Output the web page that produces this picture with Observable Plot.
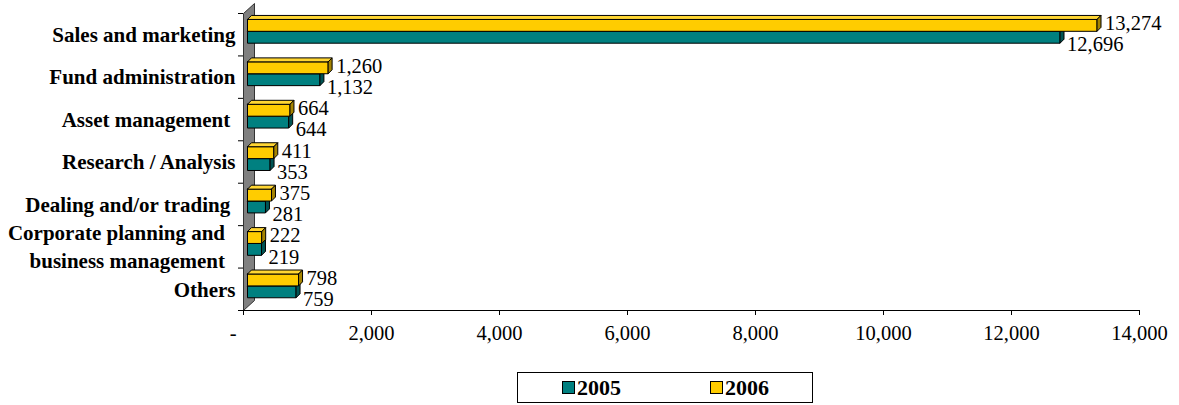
<!DOCTYPE html>
<html><head><meta charset="utf-8">
<script src="https://cdn.jsdelivr.net/npm/d3@7"></script>
<script src="https://cdn.jsdelivr.net/npm/@observablehq/plot@0.6"></script>
<style>
body{margin:0;background:#fff;font-family:"Liberation Serif","Times New Roman",serif;}
#legend{position:relative;margin-left:517px;margin-top:7px;width:294px;height:29px;border:1px solid #000;}
.item{position:absolute;top:0;height:29px;display:flex;align-items:center;font-weight:bold;font-size:22px;}
.sw{width:11px;height:11px;border:1px solid #000;margin-right:2px;}
</style></head><body><div id="chart"></div>
<script>
const categories = ["Sales and marketing","Fund administration","Asset management\u00a0","Research / Analysis","Dealing and/or trading\u00a0","Corporate planning and\u00a0\u00a0\nbusiness management\u00a0\u00a0","Others"];
const values2005 = [12696,1132,644,353,281,219,759];
const values2006 = [13274,1260,664,411,375,222,798];
const seriesNames = ["2005","2006"];
const xTicks = [0,2000,4000,6000,8000,10000,12000,14000];

const colors = {"2005":{front:"#008080",top:"#1a9999",side:"#005454"},
                "2006":{front:"#FFCC00",top:"#FFD633",side:"#A68400"}};
const DX = 62, DY = 0.094;       // bar depth (data units)
const WX = 172, WY = 0.236;      // wall depth (data units)
const n = categories.length;

function poly(id, pts){ return [...pts, pts[0]].map(([x,y])=>({id,x,y})); }
function faces(vals, f1, f2, key){
  const front=[], top=[], side=[];
  vals.forEach((v,i)=>{
    const a=i+f1, b=i+f2;
    front.push(...poly(key+i,[[0,a],[v,a],[v,b],[0,b]]));
    top.push(...poly(key+i,[[0,a],[DX,a-DY],[v+DX,a-DY],[v,a]]));
    side.push(...poly(key+i,[[v,a],[v+DX,a-DY],[v+DX,b-DY],[v,b]]));
  });
  return {front,top,side};
}
const f05 = faces(values2005, 0.42, 0.70, "a");
const f06 = faces(values2006, 0.14, 0.42, "b");
const wall = poly("w", [[0,n],[0,0],[WX,-WY],[WX,n-WY]]);

function barMarks(f, c){
  const o = {x:"x", y:"y", z:"id", stroke:"#000", strokeWidth:1, curve:"linear", dx:4, strokeLinejoin:"miter"};
  return [
    Plot.line(f.front, {...o, fill:c.front}),
    Plot.line(f.top, {...o, fill:c.top}),
    Plot.line(f.side, {...o, fill:c.side})
  ];
}
const fmt = d3.format(",");
const plot = Plot.plot({
  width: 1179, height: 365,
  marginLeft: 243, marginRight: 40, marginTop: 13, marginBottom: 55,
  style: {fontFamily: "'Liberation Serif','Times New Roman',serif", fontSize: "20.5px", background: "#fff", color: "#000"},
  x: {domain: [0, 14000]},
  y: {domain: [n, 0]},
  marks: [
    Plot.line(wall, {x:"x", y:"y", z:"id", fill:"#808080", stroke:"#333", strokeWidth:1, curve:"linear"}),
    Plot.ruleY([n], {stroke:"#000", strokeWidth:1}),
    Plot.axisX({ticks: xTicks, tickSize: 5, tickPadding: 10, label: null, fontSize: 20.5,
      tickFormat: d => d === 0 ? "-\u00a0\u00a0\u00a0\u00a0" : fmt(d)}),
    Plot.axisY({ticks: d3.range(n+1), tickSize: 5, label: null, tickFormat: () => ""}),
    Plot.text(categories, {x: () => 0, y: (d,i) => i + 0.5, text: d => d, textAnchor: "end", dx: -8, dy: -1.5,
      fontWeight: "bold", lineHeight: 1.3, fontSize: 21}),
    ...barMarks(f05, colors["2005"]),
    ...barMarks(f06, colors["2006"]),
    Plot.text(values2006, {x: d => d, y: (d,i) => i + 0.24, text: d => fmt(d), textAnchor: "start", dx: 12, fontSize: 20.5}),
    Plot.text(values2005, {x: d => d, y: (d,i) => i + 0.74, text: d => fmt(d), textAnchor: "start", dx: 11, fontSize: 20.5})
  ]
});
document.getElementById("chart").appendChild(plot);

const legend = document.createElement("div");
legend.id = "legend";
const legendOffsets = [44, 192];
seriesNames.forEach((s,k)=>{
  const it = document.createElement("div");
  it.className = "item";
  it.style.left = legendOffsets[k] + "px";
  const sw = document.createElement("span");
  sw.className = "sw";
  sw.style.background = colors[s].front;
  it.appendChild(sw);
  it.appendChild(document.createTextNode(s));
  legend.appendChild(it);
});
document.body.appendChild(legend);
</script></body></html>
